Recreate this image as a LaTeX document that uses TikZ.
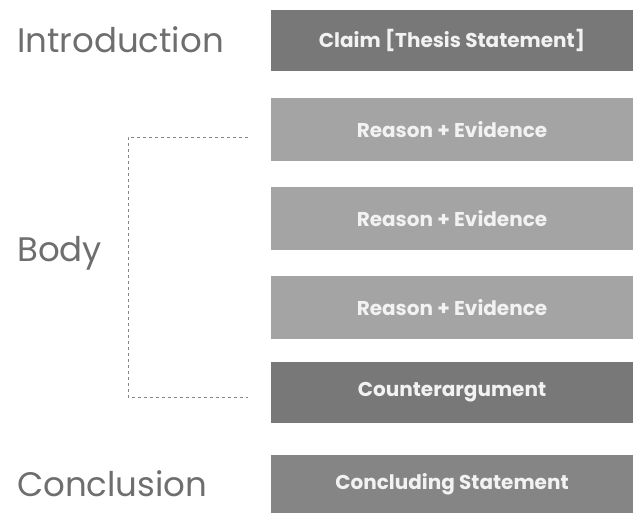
\documentclass[tikz,border=0pt]{standalone}
\usepackage{fontspec}
\setmainfont{Poppins}
\definecolor{darkbox}{HTML}{787878}
\definecolor{lightbox}{HTML}{A4A4A4}
\definecolor{midbox}{HTML}{858585}
\definecolor{labelgray}{HTML}{6E6E6E}
\definecolor{dashgray}{HTML}{858585}
\definecolor{boxtext}{HTML}{F2F2F2}
\tikzset{
  part/.style={anchor=west, text=labelgray, font=\fontsize{34}{38}\selectfont, inner sep=0pt},
  stepbox/.style={minimum width=362pt, inner sep=0pt, text=boxtext, font=\fontsize{20}{23}\selectfont\bfseries},
  bracket/.style={draw=dashgray, dash pattern=on 3pt off 3pt, line width=1pt}
}
\begin{document}
\begin{tikzpicture}[x=1pt,y=-1pt]
\useasboundingbox (0,0) rectangle (633,517);
\fill[white] (0,0) rectangle (633,517);
% boxes
\node[stepbox, fill=darkbox, minimum height=61pt] (claim) at (452,40.5) {Claim [Thesis Statement]};
\node[stepbox, fill=lightbox, minimum height=63pt] (r1) at (452,129.5) {Reason + Evidence};
\node[stepbox, fill=lightbox, minimum height=63pt] (r2) at (452,218.5) {Reason + Evidence};
\node[stepbox, fill=lightbox, minimum height=63pt] (r3) at (452,307.5) {Reason + Evidence};
\node[stepbox, fill=darkbox, minimum height=61pt] (counter) at (452,392.5) {Counterargument};
\node[stepbox, fill=midbox, minimum height=58pt] (concl) at (452,484) {Concluding Statement};
% labels
\node[part] (intro) at (17,40) {Introduction};
\node[part] (body) at (17,253) {Body};
\node[part] (conclusion) at (17,484) {Conclusion};
% bracket
\coordinate (bt) at (248,137);
\coordinate (bb) at (248,397);
\draw[bracket] (bt) -- (128,137) -- (128,397) -- (bb);
\end{tikzpicture}
\end{document}
